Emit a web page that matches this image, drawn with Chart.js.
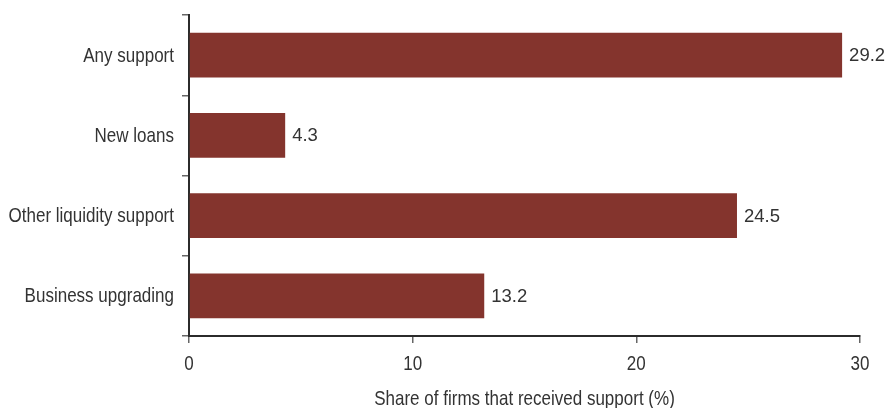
<!DOCTYPE html>
<html>
<head>
<meta charset="utf-8">
<script src="https://cdn.jsdelivr.net/npm/chart.js@4"></script>
<style>
  html, body { margin: 0; padding: 0; background: #fff; }
  #wrap { width: 886px; height: 408px; position: relative; }
</style>
</head>
<body>
<div id="wrap"><canvas id="chart"></canvas></div>
<script>
// Support categories and the share of firms receiving each (%)
const categories = ['Any support', 'New loans', 'Other liquidity support', 'Business upgrading'];
const shares = [29.2, 4.3, 24.5, 13.2];
const xTicks = [0, 10, 20, 30];
const xTitle = 'Share of firms that received support (%)';

const sans = "'Liberation Sans', Arial, sans-serif";
const textColor = '#333333';
const squeeze = 0.81; // horizontal compression for the condensed axis text

// Draws text narrowed horizontally around its anchor point
function narrowText(ctx, text, x, y, align) {
  ctx.save();
  ctx.translate(x, y);
  ctx.scale(squeeze, 1);
  ctx.textAlign = align;
  ctx.textBaseline = 'alphabetic';
  ctx.fillText(text, 0, 0);
  ctx.restore();
}

// Category names, x tick numbers, axis title and bar values
const axisText = {
  id: 'axisText',
  afterDraw(chart) {
    const ctx = chart.ctx;
    const xs = chart.scales.x;
    const ys = chart.scales.y;
    const area = chart.chartArea;
    ctx.save();
    ctx.fillStyle = textColor;

    ctx.font = '21px ' + sans;
    categories.forEach((name, i) => {
      narrowText(ctx, name, area.left - 15, ys.getPixelForTick(i) + 6.5, 'right');
    });
    xTicks.forEach(v => {
      narrowText(ctx, String(v), xs.getPixelForValue(v), 370, 'center');
    });
    narrowText(ctx, xTitle, (area.left + area.right) / 2, 405, 'center');

    const meta = chart.getDatasetMeta(0);
    ctx.font = '18.5px ' + sans;
    ctx.textAlign = 'left';
    ctx.textBaseline = 'alphabetic';
    meta.data.forEach((bar, i) => {
      ctx.fillText(shares[i].toFixed(1), bar.x + 7, bar.y + 6);
    });
    ctx.restore();
  }
};

new Chart(document.getElementById('chart'), {
  type: 'bar',
  data: {
    labels: categories,
    datasets: [{
      data: shares,
      backgroundColor: '#84342d',
      borderWidth: 0,
      categoryPercentage: 1,
      barPercentage: 0.56
    }]
  },
  options: {
    indexAxis: 'y',
    responsive: true,
    maintainAspectRatio: false,
    animation: false,
    layout: { padding: { top: 15, right: 26, left: 0, bottom: 0 } },
    plugins: {
      legend: { display: false },
      tooltip: { enabled: false }
    },
    scales: {
      x: {
        min: 0,
        max: 30,
        afterBuildTicks(scale) {
          scale.ticks = xTicks.map(v => ({ value: v }));
        },
        afterFit(scale) { scale.height = 72; },
        border: { display: true, color: '#2b2b2b', width: 2 },
        grid: { display: true, drawOnChartArea: false, drawTicks: true, tickLength: 7, color: '#666666', lineWidth: 1.5 },
        ticks: { display: false },
        title: { display: false }
      },
      y: {
        afterFit(scale) { scale.width = 189; },
        border: { display: true, color: '#2b2b2b', width: 2 },
        grid: { display: true, offset: true, drawOnChartArea: false, drawTicks: true, tickLength: 7, color: '#666666', lineWidth: 1.5 },
        ticks: { display: false }
      }
    }
  },
  plugins: [axisText]
});
</script>
</body>
</html>
